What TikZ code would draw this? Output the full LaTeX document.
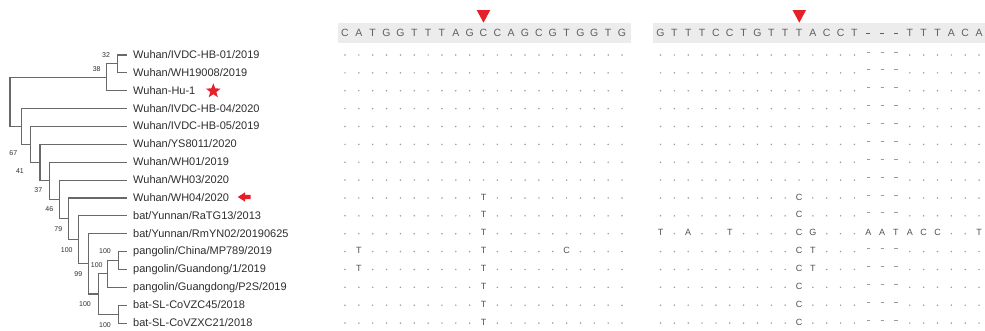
\documentclass[tikz,border=0pt]{standalone}
\usepackage{fontspec}
\setmainfont{Liberation Sans}
\usetikzlibrary{shapes.geometric}
\definecolor{redm}{RGB}{230,32,42}
\definecolor{treeln}{RGB}{105,105,105}
\definecolor{txt}{RGB}{45,45,45}
\definecolor{hdr}{RGB}{95,95,95}
\definecolor{band}{RGB}{236,236,236}
\definecolor{dotc}{RGB}{155,155,155}
\definecolor{seqc}{RGB}{80,80,80}
\newcommand\rowY[1]{55+17.87*(#1-1)}
% #1 row number, #2 start x, #3 list, #4 block tag
\newcommand\alnrow[4]{%
  \foreach \ch [count=\k from 0] in {#3} {%
    \pgfmathsetmacro\xx{#2+13.85*\k}%
    \pgfmathsetmacro\yy{\rowY{#1}}%
    \if o\ch
      \fill[dotc] (\xx,\yy) circle (0.85pt);
    \else\if x\ch
      \draw[gapdash] (\xx-1.6,\yy-3) -- (\xx+1.6,\yy-3);
    \else
      \node[seqch] (s#4-#1-\k) at (\xx,\yy-1) {\ch};
    \fi\fi
  }%
}
\begin{document}
\begin{tikzpicture}[x=1pt,y=-1pt,
  branch/.style={draw=treeln,line width=1.1pt},
  taxon/.style={anchor=west,inner sep=0pt,text=txt,text height=8.3pt,text depth=1.5pt,font=\fontsize{11}{12}\selectfont},
  boot/.style={inner sep=0pt,text=txt,font=\fontsize{7}{8}\selectfont},
  hdrch/.style={inner sep=0pt,text=hdr,font=\fontsize{10.5}{12}\selectfont},
  seqch/.style={inner sep=0pt,text=seqc,font=\fontsize{9}{10}\selectfont},
  gapdash/.style={draw=dotc,line width=0.9pt},
  redtri/.style={fill=redm,draw=none}
]
\useasboundingbox (0,0) rectangle (985,330);

% ---------------- tree ----------------
\foreach \lab [count=\i] in {Wuhan/IVDC-HB-01/2019,Wuhan/WH19008/2019,Wuhan-Hu-1,Wuhan/IVDC-HB-04/2020,Wuhan/IVDC-HB-05/2019,Wuhan/YS8011/2020,Wuhan/WH01/2019,Wuhan/WH03/2020,Wuhan/WH04/2020,bat/Yunnan/RaTG13/2013,bat/Yunnan/RmYN02/20190625,pangolin/China/MP789/2019,pangolin/Guandong/1/2019,pangolin/Guangdong/P2S/2019,bat-SL-CoVZC45/2018,bat-SL-CoVZXC21/2018} {
  \node[taxon] (t\i) at (133,{\rowY{\i}}) {\lab};
  \coordinate (p\i) at (126.7,{\rowY{\i}});
}

\coordinate (root) at (10,101.96);
\coordinate (nA) at (106.7,77.34);
\coordinate (n12) at (117.7,63.94);
\coordinate (nB) at (21.3,126.58);
\coordinate (nC) at (30.7,144.54);
\coordinate (nD) at (40,162.6);
\coordinate (nE) at (49.3,180.86);
\coordinate (nF) at (59.3,199.5);
\coordinate (nG) at (68.3,218.9);
\coordinate (nH) at (78.3,239.85);
\coordinate (nI) at (88.3,263.86);
\coordinate (nJ) at (98.3,294.01);
\coordinate (nK) at (107.3,273.91);
\coordinate (nL) at (118.3,260.5);
\coordinate (nM) at (118.3,314.11);

\draw[branch] (n12) |- (p1);  \draw[branch] (n12) |- (p2);
\draw[branch] (nA) |- (n12);  \draw[branch] (nA) |- (p3);
\draw[branch] (root) |- (nA); \draw[branch] (root) |- (nB);
\draw[branch] (nB) |- (p4);   \draw[branch] (nB) |- (nC);
\draw[branch] (nC) |- (p5);   \draw[branch] (nC) |- (nD);
\draw[branch] (nD) |- (p6);   \draw[branch] (nD) |- (nE);
\draw[branch] (nE) |- (p7);   \draw[branch] (nE) |- (nF);
\draw[branch] (nF) |- (p8);   \draw[branch] (nF) |- (nG);
\draw[branch] (nG) |- (p9);   \draw[branch] (nG) |- (nH);
\draw[branch] (nH) |- (p10);  \draw[branch] (nH) |- (nI);
\draw[branch] (nI) |- (p11);  \draw[branch] (nI) |- (nJ);
\draw[branch] (nJ) |- (nK);   \draw[branch] (nJ) |- (nM);
\draw[branch] (nK) |- (nL);   \draw[branch] (nK) |- (p14);
\draw[branch] (nL) |- (p12);  \draw[branch] (nL) |- (p13);
\draw[branch] (nM) |- (p15);  \draw[branch] (nM) |- (p16);

% bootstrap values
\node[boot] (b32) at (106,55) {32};
\node[boot] (b38) at (96.7,69.3) {38};
\node[boot] (b67) at (13.3,153.3) {67};
\node[boot] (b41) at (20,170.7) {41};
\node[boot] (b37) at (38.3,190) {37};
\node[boot] (b46) at (49.3,209.3) {46};
\node[boot] (b79) at (58.3,229.3) {79};
\node[boot] (bH) at (66.7,250) {100};
\node[boot] (bL) at (105,251) {100};
\node[boot] (bK) at (96.7,265) {100};
\node[boot] (b99) at (78.3,274.3) {99};
\node[boot] (bJ) at (85,304) {100};
\node[boot] (bM) at (105,325) {100};

% markers
\node[star,star points=5,star point ratio=2.4,minimum size=15.5pt,inner sep=0pt,fill=redm] (star1) at (213.3,91) {};
\fill[redm] (237.8,197) -- (245,192.3) -- (245,194.8) -- (250.5,194.8) -- (250.5,199.2) -- (245,199.2) -- (245,201.7) -- cycle;

% ---------------- alignment header ----------------
\fill[band] (338,23) rectangle (631,43);
\fill[band] (653,23) rectangle (985,43);
\fill[redtri] (476.7,10) -- (490.3,10) -- (483.5,22.7) -- cycle;
\fill[redtri] (792.5,10) -- (806.1,10) -- (799.3,22.7) -- cycle;

\foreach \ch [count=\k from 0] in {C,A,T,G,G,T,T,T,A,G,C,C,A,G,C,G,T,G,G,T,G} {
  \node[hdrch] (h1-\k) at ({345+13.85*\k},33) {\ch};
}
\foreach \ch [count=\k from 0] in {G,T,T,T,C,C,T,G,T,T,T,A,C,C,T,x,x,x,T,T,T,A,C,A} {
  \if x\ch
    \draw[draw=hdr,line width=1pt] ({660.5+13.85*\k-1.8},33.5) -- ({660.5+13.85*\k+1.8},33.5);
  \else
    \node[hdrch] (h2-\k) at ({660.5+13.85*\k},33) {\ch};
  \fi
}

% ---------------- alignment rows: block 1 ----------------
\foreach \r in {1,...,8} {
  \alnrow{\r}{345}{o,o,o,o,o,o,o,o,o,o,o,o,o,o,o,o,o,o,o,o,o}{a}
}
\foreach \r in {9,10,11,14,15,16} {
  \alnrow{\r}{345}{o,o,o,o,o,o,o,o,o,o,T,o,o,o,o,o,o,o,o,o,o}{a}
}
\alnrow{12}{345}{o,T,o,o,o,o,o,o,o,o,T,o,o,o,o,o,C,o,o,o,o}{a}
\alnrow{13}{345}{o,T,o,o,o,o,o,o,o,o,T,o,o,o,o,o,o,o,o,o,o}{a}

% ---------------- alignment rows: block 2 ----------------
\foreach \r in {1,...,8} {
  \alnrow{\r}{660.5}{o,o,o,o,o,o,o,o,o,o,o,o,o,o,o,x,x,x,o,o,o,o,o,o}{b}
}
\foreach \r in {9,10,14,15,16} {
  \alnrow{\r}{660.5}{o,o,o,o,o,o,o,o,o,o,C,o,o,o,o,x,x,x,o,o,o,o,o,o}{b}
}
\alnrow{11}{660.5}{T,o,A,o,o,T,o,o,o,o,C,G,o,o,o,A,A,T,A,C,C,o,o,T}{b}
\alnrow{12}{660.5}{o,o,o,o,o,o,o,o,o,o,C,T,o,o,o,x,x,x,o,o,o,o,o,o}{b}
\alnrow{13}{660.5}{o,o,o,o,o,o,o,o,o,o,C,T,o,o,o,x,x,x,o,o,o,o,o,o}{b}
\end{tikzpicture}
\end{document}
